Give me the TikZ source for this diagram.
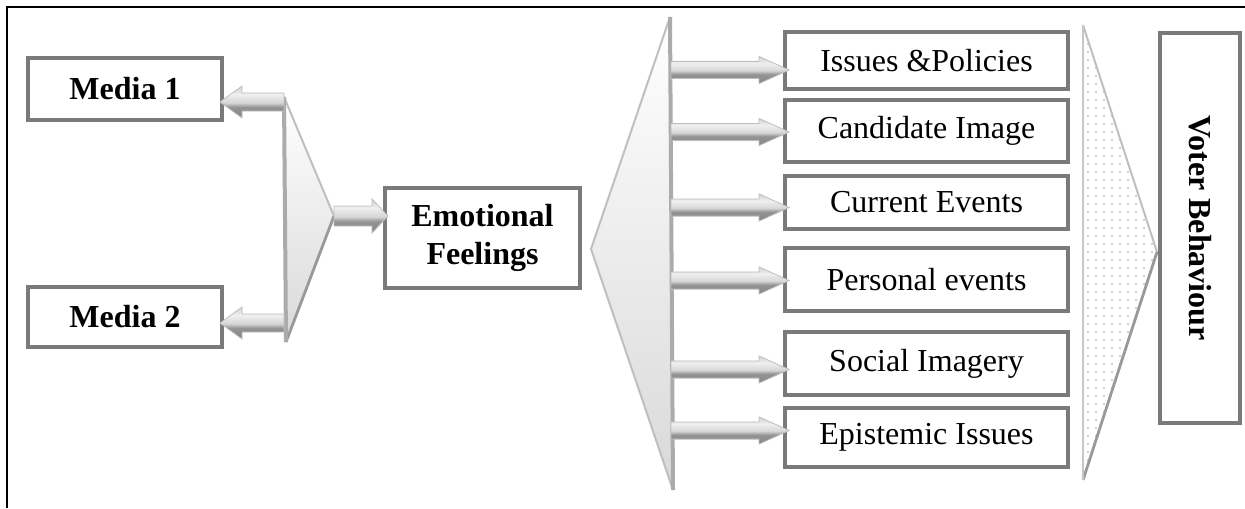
\documentclass[tikz,border=0pt]{standalone}
\usepackage{fontspec}
\setmainfont{Liberation Serif}
\usetikzlibrary{calc,patterns}

% light top, dark bottom stripe for the block arrows (inner 25bp..75bp spans the path)
\pgfdeclareverticalshading{arrowshade}{100bp}{%
  color(0bp)=(black!48); color(25bp)=(black!48); color(42bp)=(black!42);
  color(49bp)=(black!16); color(62bp)=(black!6); color(75bp)=(black!18);
  color(100bp)=(black!18)}

% sparse grey dots for the final funnel
\pgfdeclarepatternformonly{sparsedots}{\pgfqpoint{-1pt}{-1pt}}{\pgfqpoint{1pt}{1pt}}%
  {\pgfqpoint{4pt}{4pt}}{\pgfpathcircle{\pgfqpoint{0pt}{0pt}}{0.55pt}\pgfusepath{fill}}

\tikzset{
  box/.style={draw=black!52, line width=1.6pt, fill=white, inner sep=0pt, outer sep=0pt,
              font=\fontsize{16}{19.5}\selectfont},
  boldbox/.style={box, font=\fontsize{16}{19.5}\selectfont\bfseries},
  itembox/.style={box, minimum width=141.5pt},
  arrowbody/.style={shading=arrowshade, draw=black!25, line width=0.4pt},
  funnelfill/.style={top color=white, bottom color=black!15},
  funneledge/.style={draw=black!25, line width=1pt},
  funnelshadow/.style={draw=black!40, line width=1.4pt},
  funnelbar/.style={draw=black!33, line width=2pt},
}

% horizontal block arrow: #1 start, #2 tip, #3 shaft half height, #4 head half height, #5 head length
\newcommand{\blockarrow}[5]{%
  \path[arrowbody] let \p1=(#1), \p2=(#2), \n1={ifthenelse(\x2>\x1,1,-1)} in
    (\x1,\y1+#3) -- ({\x2-\n1*#5},\y1+#3) -- ({\x2-\n1*#5},\y1+#4) -- (\x2,\y1)
    -- ({\x2-\n1*#5},\y1-#4) -- ({\x2-\n1*#5},\y1-#3) -- (\x1,\y1-#3) -- cycle;}

\begin{document}
\begin{tikzpicture}[x=0.5pt,y=-0.5pt]
\useasboundingbox (0,0) rectangle (1245,508);

% frame
\draw[line width=1.3pt] (7,508) -- (7,7) -- (1245,7);

% left funnel (media -> feelings)
\coordinate (lt) at (284,97);
\coordinate (lb) at (286,342);
\coordinate (la) at (334,216);
\fill[funnelfill] (lt) -- (la) -- (lb) -- cycle;
\draw[funneledge] (lt) -- (la);
\draw[funnelshadow] (la) -- (lb);
\draw[funnelbar] (lt) -- (lb);

% middle funnel (feelings -> factors)
\coordinate (mt) at (670,17);
\coordinate (mb) at (673,490);
\coordinate (ma) at (591,249);
\fill[funnelfill] (mt) -- (ma) -- (mb) -- cycle;
\draw[funneledge] (mt) -- (ma) -- (mb);
\draw[funnelbar] (mt) -- (mb);

% right funnel (factors -> behaviour)
\coordinate (rt) at (1083,25);
\coordinate (rb) at (1083,480);
\coordinate (ra) at (1157,252);
\fill[pattern=sparsedots, pattern color=black!25] (rt) -- (ra) -- (rb) -- cycle;
\draw[funneledge] (rt) -- (ra);
\draw[funnelshadow] (ra) -- (rb);
\draw[draw=black!22, line width=1.3pt] (rt) -- (rb);

% boxes
\node[boldbox, minimum width=97pt, minimum height=31pt] (media1) at (125,89) {Media 1};
\node[boldbox, minimum width=97pt, minimum height=30pt] (media2) at (125,317) {Media 2};
\node[boldbox, minimum width=97.5pt, minimum height=50pt, align=center] (emo) at (482.5,238)
  {Emotional\\[-0.5pt]Feelings};

\node[itembox, minimum height=28.5pt] (issues)    at (926.5,60.5)  {Issues \&Policies};
\node[itembox, minimum height=31pt]   (candidate) at (926.5,131)   {Candidate Image};
\node[itembox, minimum height=26.5pt] (current)   at (926.5,202.5) {Current Events};
\node[itembox, minimum height=31.5pt] (personal)  at (926.5,279.5) {Personal events};
\node[itembox, minimum height=31.5pt] (social)    at (926.5,363.5) {Social Imagery};
\node[itembox, minimum height=29.5pt] (epistemic) at (926.5,437.5) {Epistemic Issues};

\node[boldbox, line width=2pt, minimum width=40pt, minimum height=195pt] (voter) at (1200,228) {};
\node[font=\fontsize{16}{19.5}\selectfont\bfseries, rotate=-90] at (voter.center) {Voter Behaviour};

% arrows from the left funnel
\coordinate (m1s) at (284,102);
\coordinate (m2s) at (284,323);
\blockarrow{m1s}{$(m1s -| media1.east)+(-1pt,0)$}{4.5pt}{8pt}{11pt}
\blockarrow{m2s}{$(m2s -| media2.east)+(-1pt,0)$}{4.5pt}{8pt}{11pt}
\blockarrow{la}{$(la -| emo.west)+(1.5pt,0)$}{5pt}{8.5pt}{8pt}

% arrows from the middle funnel bar
\coordinate (r1) at (671,70);
\coordinate (r2) at (671,132);
\coordinate (r3) at (671,207.5);
\coordinate (r4) at (671,280.5);
\coordinate (r5) at (671,369.5);
\coordinate (r6) at (671,430.5);
\blockarrow{r1}{$(r1 -| issues.west)+(2pt,0)$}{4.3pt}{6.8pt}{15pt}
\blockarrow{r2}{$(r2 -| candidate.west)+(2pt,0)$}{4.3pt}{6.8pt}{15pt}
\blockarrow{r3}{$(r3 -| current.west)+(2pt,0)$}{4.3pt}{6.8pt}{15pt}
\blockarrow{r4}{$(r4 -| personal.west)+(2pt,0)$}{4.3pt}{6.8pt}{15pt}
\blockarrow{r5}{$(r5 -| social.west)+(2pt,0)$}{4.3pt}{6.8pt}{15pt}
\blockarrow{r6}{$(r6 -| epistemic.west)+(2pt,0)$}{4.3pt}{6.8pt}{15pt}
\end{tikzpicture}
\end{document}
